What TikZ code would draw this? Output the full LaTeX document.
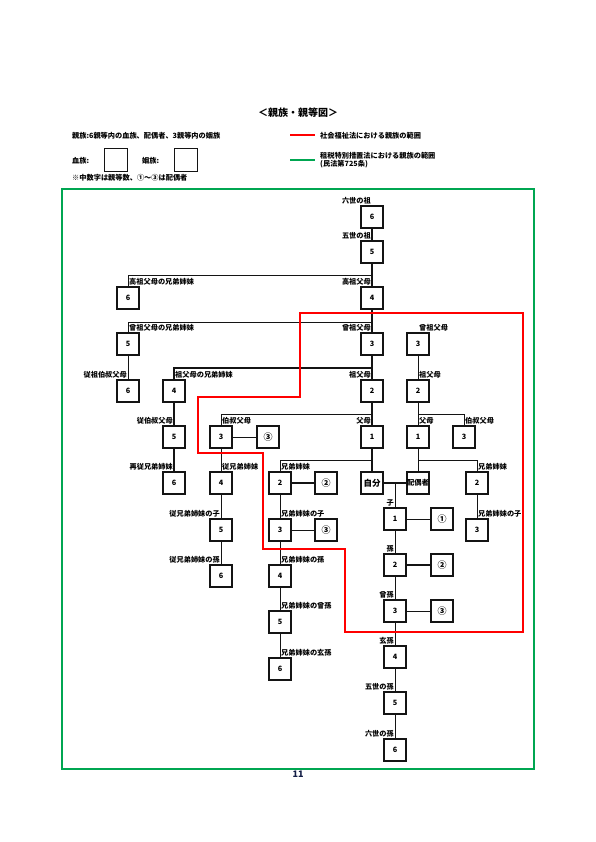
\documentclass[tikz,border=0pt]{standalone}
\usepackage{fontspec}
\setmainfont{Noto Sans CJK JP}
\usetikzlibrary{positioning}
\definecolor{lawred}{RGB}{255,0,0}
\definecolor{lawgreen}{RGB}{0,166,81}
\definecolor{black90}{RGB}{20,20,20}
\definecolor{pagenavy}{RGB}{20,30,70}

\tikzset{
    blood/.style={draw=black90, line width=1.6pt, fill=white, minimum size=22pt, inner sep=0pt, font=\bfseries\fontsize{7.3}{8}\selectfont},
    inlaw/.style={blood, line width=1.1pt},
    lbl/.style={inner sep=1pt, font=\bfseries\fontsize{7.2}{8}\selectfont},
    thickline/.style={black90, line width=1.6pt},
    thinline/.style={black90, line width=0.8pt}
}

\begin{document}
\begin{tikzpicture}[x=1pt, y=-1pt]

    \useasboundingbox (0,0) rectangle (595,842);

    % Title and legend
    \node[font=\bfseries\fontsize{10}{12}\selectfont] (title) at (298,113) {＜親族・親等図＞};
    \node[lbl, anchor=west] (note1) at (71,136) {親族:6親等内の血族、配偶者、3親等内の姻族};
    \node[lbl, anchor=west] (bloodlab) at (71,161) {血族:};
    \node[blood, minimum size=23pt] (bloodkey) at (116,160) {};
    \node[lbl, anchor=west] (inlawlab) at (141,161) {姻族:};
    \node[blood, minimum size=23pt] (inlawkey) at (186,160) {};
    \node[lbl, anchor=west] (note2) at (71,178) {※中数字は親等数、①～③は配偶者};

    \draw[lawred, line width=2pt] (290,135) -- (315,135);
    \node[lbl, anchor=west] (redlab) at (319,136) {社会福祉法における親族の範囲};
    \draw[lawgreen, line width=2.5pt] (290,160) -- (315,160);
    \node[lbl, anchor=west, align=left] (greenlab) at (319,160) {租税特別措置法における親族の範囲\\(民法第725条)};

    % Frames
    \draw[lawgreen, line width=2pt] (62,189) rectangle (534,769);

    % Blood relatives
    \foreach \n/\x/\y/\t/\l/\s in {
        m6/372/217/6/六世の祖/east, m5/372/252/5/五世の祖/east, m4/372/298/4/高祖父母/east,
        m3/372/344/3/曾祖父母/east, m2/372/391/2/祖父母/east, m1/372/437/1/父母/east,
        a6/128/298/6/高祖父母の兄弟姉妹/west, b5/128/344/5/曾祖父母の兄弟姉妹/west, b6/128/391/6/従祖伯叔父母/east,
        c4/174/391/4/祖父母の兄弟姉妹/west, c5/174/437/5/従伯叔父母/east, c6/174/483/6/再従兄弟姉妹/east,
        d3/221/437/3/伯叔父母/west, d4/221/483/4/従兄弟姉妹/west, d5/221/530/5/従兄弟姉妹の子/east, d6/221/576/6/従兄弟姉妹の孫/east,
        e2/280/483/2/兄弟姉妹/west, e3/280/530/3/兄弟姉妹の子/west, e4/280/576/4/兄弟姉妹の孫/west,
        e5/280/622/5/兄弟姉妹の曾孫/west, e6/280/669/6/兄弟姉妹の玄孫/west,
        k1/395/519/1/子/east, k2/395/565/2/孫/east, k3/395/611/3/曾孫/east,
        k4/395/657/4/玄孫/east, k5/395/703/5/五世の孫/east, k6/395/750/6/六世の孫/east} {
        \node[blood] (\n) at (\x,\y) {\t};
        \node[lbl, anchor=south \s] (\n-lab) at (\n.north) {\l};
    }
    \node[blood, font=\bfseries\fontsize{8.5}{9}\selectfont] (me) at (372,483) {自分};

    % In-laws
    \foreach \n/\x/\y/\t/\l in {
        s3/418/344/3/曾祖父母, s2/418/391/2/祖父母, s1/418/437/1/父母,
        s1b/464/437/3/伯叔父母, f2/477/483/2/兄弟姉妹, f3/477/530/3/兄弟姉妹の子} {
        \node[inlaw] (\n) at (\x,\y) {\t};
        \node[lbl, anchor=south west] (\n-lab) at (\n.north) {\l};
    }

    % Spouses
    \foreach \n/\x/\y/\t in {
        d3s/268/437/③, e2s/326/483/②, e3s/326/530/③,
        k1s/442/519/①, k2s/442/565/②, k3s/442/611/③} {
        \node[inlaw, font=\bfseries\fontsize{9}{10}\selectfont] (\n) at (\x,\y) {\t};
    }
    \node[inlaw] (sp) at (418,483) {配偶者};

    % Branch points
    \coordinate (j4) at (372,275);
    \coordinate (j3) at (372,322);
    \coordinate (j2) at (372,368);
    \coordinate (j1) at (372,414);
    \coordinate (j0) at (372,460);
    \coordinate (jc) at (395,483);
    \coordinate (js) at (418,414);
    \coordinate (jf) at (418,460);

    % Lines
    \draw[thickline] (m6) -- (m5);
    \draw[thickline] (m5) -- (m4);
    \draw[thickline] (m4) -- (m3);
    \draw[thickline] (m3) -- (m2);
    \draw[thickline] (m2) -- (m1);
    \draw[thickline] (m1) -- (me);
    \draw[thickline] (j2) -| (c4);
    \draw[thickline] (c4) -- (c5);
    \draw[thickline] (c5) -- (c6);
    \draw[thickline] (me) -- (sp);
    \draw[thickline] (e2) -- (e2s);
    \draw[thickline] (k2) -- (k2s);

    \draw[thinline] (j4) -| (a6);
    \draw[thinline] (j3) -| (b5);
    \draw[thinline] (b5) -- (b6);
    \draw[thinline] (j1) -| (d3);
    \draw[thinline] (d3) -- (d3s);
    \foreach \a/\b in {d3/d4, d4/d5, d5/d6, e2/e3, e3/e4, e4/e5, e5/e6, e3/e3s,
        k1/k1s, k1/k2, k2/k3, k3/k3s, k3/k4, k4/k5, k5/k6,
        s3/s2, s2/s1, s1/sp, f2/f3}
        \draw[thinline] (\a) -- (\b);
    \draw[thinline] (j0) -| (e2);
    \draw[thinline] (jc) -- (k1);
    \draw[thinline] (js) -| (s1b);
    \draw[thinline] (jf) -| (f2);

    % Social welfare range
    \draw[lawred, line width=1.6pt] (300,313) -- (523,313) -- (523,632) -- (345,632) -- (345,549)
        -- (263,549) -- (263,453) -- (198,453) -- (198,397) -- (300,397) -- cycle;

    % Page number
    \node[pagenavy, font=\bfseries\fontsize{9}{10}\selectfont] (page) at (298,774) {11};

\end{tikzpicture}
\end{document}
